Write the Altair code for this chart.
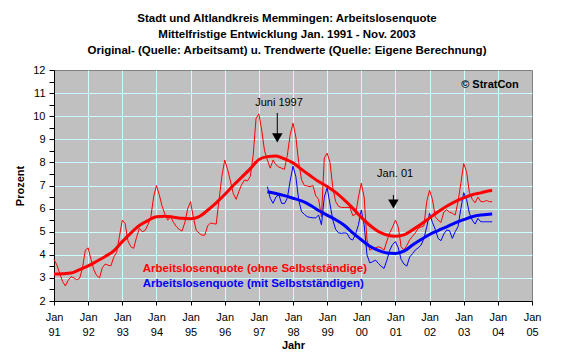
import altair as alt
import pandas as pd

# Monthly unemployment rate (%) Jan 1991 - Nov 2003, without self-employed
red_original = [
    3.8, 3.56, 3.2, 2.85, 2.65, 2.9, 3.05, 3.0, 2.92, 2.98, 3.41, 4.2,      # 1991
    4.3, 3.8, 3.35, 3.1, 3.0, 3.45, 3.6, 3.55, 3.52, 3.9, 4.1, 4.8,         # 1992
    5.5, 5.35, 4.6, 4.35, 4.28, 4.75, 5.15, 5.0, 5.05, 5.3, 5.6, 6.5,       # 1993
    7.0, 6.6, 6.1, 5.75, 5.5, 5.65, 5.4, 5.22, 5.1, 5.03, 5.4, 6.0,         # 1994
    6.3, 5.6, 5.05, 4.94, 4.85, 4.85, 5.25, 5.38, 5.35, 5.33, 6.37, 7.4,    # 1995
    8.1, 7.7, 7.2, 6.65, 6.4, 6.75, 7.05, 7.24, 7.2, 7.4, 8.3, 9.9,         # 1996
    10.1, 9.4, 8.5, 8.1, 7.75, 8.1, 7.9, 7.8, 7.75, 7.7, 8.3, 9.2,          # 1997
    9.7, 9.1, 8.0, 7.25, 7.0, 6.98, 6.95, 7.0, 6.55, 6.4, 5.65, 8.2,        # 1998
    8.4, 8.0, 6.9, 6.3, 6.1, 6.05, 6.05, 6.05, 6.05, 5.7, 5.75, 6.5,        # 1999
    7.1, 6.5, 4.65, 4.2, 4.28, 4.3, 4.35, 4.3, 4.2, 4.6, 4.95, 5.2,         # 2000
    5.5, 5.2, 4.35, 4.2, 4.4, 4.65, 4.8, 4.95, 5.15, 5.2, 5.25, 6.3,        # 2001
    6.8, 6.4, 5.65, 5.5, 5.4, 5.85, 5.95, 5.85, 5.8, 5.72, 6.3, 7.1,        # 2002
    7.95, 7.6, 6.7, 6.4, 6.25, 6.5, 6.3, 6.3, 6.35, 6.3, 6.3,               # 2003 (to Nov)
]

# Monthly unemployment rate (%) Apr 1997 - Nov 2003, with self-employed
blue_start_month = 75  # months after Jan 1991 -> Apr 1997
blue_original = [
    6.95, 6.45, 6.23, 6.5, 6.6, 6.23, 6.22, 6.45, 7.2,                       # 1997 (Apr-Dec)
    7.84, 7.38, 6.37, 5.87, 5.75, 5.65, 5.62, 5.6, 5.6, 5.72, 5.3, 6.5,      # 1998
    6.9, 6.2, 5.5, 5.1, 4.95, 4.93, 4.95, 4.93, 4.7, 4.64, 4.9, 5.3,         # 1999
    5.94, 5.3, 4.0, 3.65, 3.7, 3.77, 3.63, 3.5, 3.41, 3.77, 4.2, 4.45,       # 2000
    4.57, 4.3, 3.8, 3.6, 3.51, 3.9, 4.05, 4.21, 4.3, 4.42, 4.7, 5.2,         # 2001
    5.8, 5.4, 5.1, 4.71, 4.61, 4.9, 5.07, 5.05, 4.71, 5.0, 5.22, 6.0,        # 2002
    6.69, 6.4, 5.8, 5.5, 5.33, 5.58, 5.43, 5.43, 5.43, 5.43, 5.43,           # 2003
]

# Trend values, quarterly (months after Jan 1991)
red_trend_months = list(range(0, 154, 3)) + [154]
red_trend = [3.17, 3.18, 3.21, 3.36, 3.52, 3.72, 3.93, 4.17, 4.57, 4.94, 5.27, 5.48,
             5.65, 5.67, 5.63, 5.58, 5.56, 5.65, 5.93, 6.25, 6.61, 7.0, 7.36, 7.73,
             8.12, 8.25, 8.28, 8.15, 7.98, 7.7, 7.43, 7.17, 6.96, 6.7, 6.38, 6.02,
             5.62, 5.28, 5.01, 4.86, 4.8, 4.86, 5.08, 5.32, 5.6, 5.86, 6.1, 6.3,
             6.46, 6.6, 6.68, 6.77, 6.78]
blue_trend_months = list(range(75, 154, 3)) + [154]
blue_trend = [6.73, 6.65, 6.56, 6.45, 6.33, 6.15, 5.92, 5.72, 5.52, 5.28,
              4.95, 4.65, 4.37, 4.19, 4.08, 4.06, 4.16, 4.42, 4.66, 4.88,
              5.05, 5.21, 5.38, 5.52, 5.65, 5.72, 5.76, 5.77]

year_ticks = [1991, 1992, 1993, 1994, 1995, 1996, 1997, 1998, 1999, 2000, 2001, 2002, 2003, 2004, 2005]
y_ticks = [2, 2.5, 3, 3.5, 4, 4.5, 5, 5.5, 6, 6.5, 7, 7.5, 8, 8.5, 9, 9.5, 10, 10.5, 11, 11.5, 12]

title_lines = [
    "Stadt und Altlandkreis Memmingen: Arbeitslosenquote",
    "Mittelfristige Entwicklung Jan. 1991 - Nov. 2003",
    "Original- (Quelle: Arbeitsamt)  u. Trendwerte (Quelle: Eigene Berechnung)",
]

legend_labels = ["Arbeitslosenquote (ohne Selbstständige)", "Arbeitslosenquote (mit Selbstständigen)"]
legend_t = [1993.6, 1993.6]
legend_v = [3.37, 2.74]

note_labels = ["Juni 1997", "Jan. 01"]
note_t = [1997.59, 2000.99]
note_v = [10.57, 7.5]
arrow_t = [1997.54, 2000.94]
arrow_top = [10.14, 6.59]
arrow_bottom = [9.2, 6.3]
arrow_head = [9.06, 6.2]

copyright_label = ["© StratCon"]
copyright_t = [2003.77]
copyright_v = [11.35]

FONT = "Liberation Sans"
START = 1991

red_df = pd.DataFrame({"t": [START + i / 12 for i in range(len(red_original))], "v": red_original})
blue_df = pd.DataFrame({"t": [START + (blue_start_month + i) / 12 for i in range(len(blue_original))],
                        "v": blue_original})
red_trend_df = pd.DataFrame({"t": [START + m / 12 for m in red_trend_months], "v": red_trend})
blue_trend_df = pd.DataFrame({"t": [START + m / 12 for m in blue_trend_months], "v": blue_trend})
legend_df = pd.DataFrame({"t": legend_t, "v": legend_v, "label": legend_labels,
                          "c": ["red", "blue"]})
note_df = pd.DataFrame({"t": note_t, "v": note_v, "label": note_labels})
arrow_df = pd.DataFrame({"t": arrow_t, "v": arrow_top, "v2": arrow_bottom})
tip_df = pd.DataFrame({"t": arrow_t, "v": arrow_head})
copy_df = pd.DataFrame({"t": copyright_t, "v": copyright_v, "label": copyright_label})

x_scale = alt.Scale(domain=[1991, 2005], nice=False, zero=False)
y_scale = alt.Scale(domain=[2, 12], nice=False, zero=False)

x_axis = alt.Axis(
    values=year_ticks,
    labelExpr="['Jan', substring(toString(datum.value), 2, 4)]",
    title="Jahr", titleFontWeight="bold", titleFontSize=11, titleBaseline="top", titleY=38,
    titleColor="black", labelColor="black", labelFontSize=11, labelPadding=6,
    labelLineHeight=15, labelFlush=False, labelOverlap=False, labelBound=False,
    tickSize=4, tickColor="black", domainColor="black",
    grid=True, gridColor="#CCFFFF",
    gridOpacity={"condition": {"test": "datum.value > 1991 && datum.value < 2005", "value": 1}, "value": 0},
)
y_axis = alt.Axis(
    values=y_ticks,
    labelExpr="datum.value % 1 === 0 ? format(datum.value, 'd') : ''",
    title="Prozent", titleFontWeight="bold", titleFontSize=11, titleAngle=270,
    titleX=-34, titleY=115.5, titleBaseline="middle", titleAlign="center", titleColor="black",
    labelColor="black", labelFontSize=11, labelPadding=4, labelOverlap=False,
    tickSize=5, tickColor="black", domainColor="black",
    grid=True, gridColor="#CCFFFF",
    gridOpacity={"condition": {"test": "datum.value % 1 === 0 && datum.value > 2 && datum.value < 12", "value": 1}, "value": 0},
)

X = alt.X("t:Q", scale=x_scale, axis=x_axis)
Y = alt.Y("v:Q", scale=y_scale, axis=y_axis)

red_line = alt.Chart(red_df).mark_line(color="#FF0000", strokeWidth=1).encode(x=X, y=Y)
blue_line = alt.Chart(blue_df).mark_line(color="#0000FF", strokeWidth=1).encode(x=X, y=Y)
red_tr = alt.Chart(red_trend_df).mark_line(color="#FF0000", strokeWidth=3, interpolate="monotone").encode(x=X, y=Y)
blue_tr = alt.Chart(blue_trend_df).mark_line(color="#0000FF", strokeWidth=3, interpolate="monotone").encode(x=X, y=Y)

legend_text = alt.Chart(legend_df).mark_text(align="left", baseline="middle", fontSize=11.5,
                                             fontWeight="bold", font=FONT).encode(
    x=X, y=Y, text="label:N",
    color=alt.Color("c:N", scale=alt.Scale(domain=["red", "blue"], range=["#FF0000", "#0000FF"]), legend=None),
)
note_text = alt.Chart(note_df).mark_text(align="center", baseline="middle", fontSize=11,
                                         color="black", font=FONT).encode(x=X, y=Y, text="label:N")
arrow_rule = alt.Chart(arrow_df).mark_rule(color="black", strokeWidth=1).encode(
    x=X, y=Y, y2="v2:Q")
arrow_tip = alt.Chart(tip_df).mark_point(shape="triangle-down", filled=True, size=110,
                                         color="black", opacity=1).encode(x=X, y=Y)
copy_text = alt.Chart(copy_df).mark_text(align="center", baseline="middle", fontSize=11,
                                         fontWeight="bold", color="black", font=FONT).encode(
    x=X, y=Y, text="label:N")

chart = alt.layer(
    red_line, blue_line, red_tr, blue_tr, legend_text, note_text, arrow_rule, arrow_tip, copy_text
).properties(
    width=478, height=231,
    title=alt.TitleParams(text=title_lines, fontSize=11.5, fontWeight="bold", font=FONT,
                          anchor="middle", offset=8, lineHeight=16, dx=-6, color="black"),
    autosize=alt.AutoSizeParams(type="none"),
    padding={"left": 46, "top": 62, "right": 21, "bottom": 50},
).configure(
    font=FONT, background="white"
).configure_view(
    fill="#C0C0C0", stroke="#808080", strokeWidth=1
)

chart.save("out.html", embed_options={"renderer": "svg", "actions": False})
